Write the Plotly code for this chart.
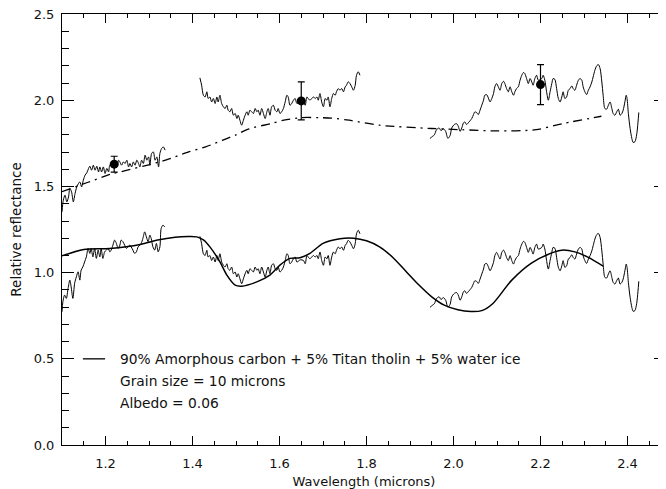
import plotly.graph_objects as go

# ---------------- data ----------------
# Upper observed spectrum, three segments
up1_x = [1.100,1.103,1.107,1.111,1.115,1.118,1.122,1.126,1.130,1.134,
         1.138,1.141,1.145,1.149,1.153,1.157,1.161,1.164,1.168,1.172,
         1.176,1.180,1.184,1.187,1.191,1.195,1.199,1.203,1.207,1.210,
         1.218,1.226,1.230,1.233,1.237,1.241,1.245,1.249,1.253,1.256,
         1.260,1.264,1.268,1.272,1.276,1.279,1.283,1.287,1.291,1.295,
         1.299,1.302,1.306,1.310,1.314,1.318,1.322,1.325,1.329,1.333,
         1.337]
up1_y = [1.353,1.421,1.450,1.411,1.440,1.489,1.469,1.411,1.460,1.498,
         1.518,1.527,1.498,1.537,1.566,1.580,1.605,1.618,1.595,1.624,
         1.595,1.618,1.585,1.614,1.585,1.614,1.576,1.605,1.585,1.624,
         1.634,1.614,1.653,1.643,1.624,1.643,1.634,1.653,1.614,1.634,
         1.614,1.643,1.624,1.653,1.634,1.614,1.653,1.634,1.682,1.653,
         1.672,1.624,1.692,1.701,1.653,1.672,1.614,1.692,1.721,1.730,
         1.711]

up2_x = [1.417,1.421,1.425,1.429,1.433,1.436,1.440,1.444,1.448,1.452,
         1.456,1.459,1.463,1.467,1.471,1.475,1.479,1.482,1.486,1.490,
         1.494,1.498,1.502,1.505,1.509,1.513,1.517,1.521,1.525,1.528,
         1.532,1.536,1.540,1.544,1.548,1.551,1.555,1.559,1.563,1.567,
         1.571,1.574,1.578,1.582,1.586,1.590,1.594,1.597,1.601,1.605,
         1.609,1.613,1.617,1.620,1.624,1.628,1.632,1.636,1.640,
         1.648,1.655,1.659,1.663,1.666,1.670,1.674,1.678,1.682,1.686,
         1.689,1.693,1.697,1.701,1.705,1.709,1.712,1.716,1.720,1.724,
         1.728,1.731,1.735,1.739,1.743,1.747,1.751,1.754,1.758,1.762,
         1.766,1.770,1.774,1.777,1.781,1.785]
up2_y = [2.131,2.088,2.030,2.020,2.050,2.011,2.020,1.991,2.011,1.982,
         2.020,1.991,2.030,1.982,1.963,1.953,1.972,1.943,1.934,1.953,
         1.914,1.924,1.895,1.914,1.885,1.856,1.885,1.914,1.934,1.914,
         1.943,1.934,1.924,1.953,1.934,1.943,1.914,1.953,1.924,1.895,
         1.934,1.953,1.914,1.963,1.972,1.943,1.934,1.953,1.924,1.934,
         1.953,1.991,2.030,2.020,1.972,1.982,2.001,2.011,1.982,
         1.995,1.991,1.972,2.020,2.011,2.001,2.011,2.020,2.011,2.020,
         2.001,2.040,1.991,1.963,2.011,2.001,2.020,1.963,2.011,2.040,
         2.030,2.050,2.069,2.059,2.069,2.050,2.079,2.088,2.108,2.098,
         2.079,2.059,2.088,2.146,2.166,2.146]

up3_x = [1.946,1.951,1.956,1.961,1.967,1.971,1.977,1.982,1.987,1.992,
         1.996,2.002,2.007,2.011,2.015,2.019,2.023,2.026,2.030,2.034,
         2.042,2.046,2.049,2.053,2.057,2.061,2.065,2.069,2.072,2.076,
         2.080,2.084,2.088,2.092,2.095,2.099,2.103,2.107,2.111,2.115,
         2.118,2.122,2.126,2.130,2.134,2.138,2.141,2.145,2.149,2.153,
         2.157,2.161,2.164,2.168,2.172,2.176,2.180,2.183,2.187,2.191,
         2.195,2.203,2.206,2.210,2.214,2.218,2.222,2.226,2.229,2.233,
         2.237,2.241,2.245,2.249,2.252,2.256,2.260,2.264,2.268,2.272,
         2.275,2.279,2.283,2.287,2.291,2.295,2.298,2.302,2.306,2.310,
         2.314,2.318,2.321,2.325,2.329,2.333,2.337,2.341,2.344,2.348,
         2.352,2.356,2.360,2.364,2.367,2.371,2.375,2.379,2.383,2.387,
         2.390,2.394,2.397,2.399,2.402,2.406,2.410,2.413,2.417,2.421,
         2.424,2.426]
up3_y = [1.779,1.790,1.800,1.830,1.840,1.825,1.835,1.820,1.780,1.795,
         1.840,1.860,1.865,1.850,1.820,1.840,1.870,1.875,1.860,1.870,
         1.895,1.918,1.933,1.930,1.918,1.943,1.972,2.001,2.030,2.034,
         2.015,1.991,2.011,2.040,2.079,2.098,2.079,2.059,2.098,2.111,
         2.098,2.069,2.050,2.079,2.050,2.030,2.050,2.069,2.079,2.117,
         2.146,2.162,2.156,2.127,2.098,2.127,2.107,2.088,2.127,2.146,
         2.117,2.127,2.146,2.117,2.050,2.001,2.050,2.098,2.127,2.122,
         2.069,2.011,1.991,2.020,2.050,2.011,2.020,2.059,2.069,2.084,
         2.069,2.059,2.088,2.117,2.127,2.117,2.079,2.050,2.034,2.059,
         2.079,2.107,2.136,2.175,2.200,2.208,2.185,2.107,2.030,1.953,
         1.949,1.972,1.991,1.953,1.924,1.914,1.933,1.949,1.914,1.924,
         1.943,1.991,2.030,2.010,1.924,1.837,1.779,1.756,1.760,1.800,
         1.870,1.930]

# Lower observed spectrum, three segments
lo1_x = [1.100,1.102,1.106,1.110,1.114,1.118,1.121,1.125,1.129,1.133,
         1.137,1.141,1.144,1.148,1.152,1.156,1.160,1.164,1.167,1.171,
         1.175,1.179,1.183,1.187,1.190,1.194,1.198,1.202,1.206,1.210,
         1.213,1.217,1.221,1.225,1.229,1.233,1.236,1.240,1.244,1.248,
         1.252,1.256,1.259,1.263,1.267,1.271,1.275,1.279,1.282,1.286,
         1.290,1.294,1.298,1.302,1.305,1.309,1.313,1.317,1.321,1.325,
         1.328,1.332,1.336]
lo1_y = [0.773,0.831,0.870,0.851,0.909,0.957,0.918,0.851,0.938,0.976,
         1.005,0.957,1.015,1.034,1.063,1.092,1.141,1.112,1.141,1.092,
         1.141,1.083,1.131,1.092,1.141,1.083,1.121,1.131,1.141,1.121,
         1.131,1.160,1.189,1.170,1.141,1.160,1.189,1.180,1.160,1.141,
         1.150,1.160,1.150,1.131,1.112,1.121,1.150,1.160,1.170,1.199,
         1.237,1.208,1.180,1.218,1.199,1.150,1.131,1.170,1.121,1.150,
         1.257,1.276,1.266]

lo2_x = up2_x
lo2_y = [1.211,1.168,1.110,1.100,1.130,1.091,1.100,1.071,1.091,1.062,
         1.100,1.071,1.110,1.062,1.043,1.033,1.052,1.023,1.014,1.033,
         0.994,1.004,0.975,0.994,0.965,0.936,0.965,0.994,1.014,0.994,
         1.023,1.014,1.004,1.033,1.014,1.023,0.994,1.033,1.004,0.975,
         1.014,1.033,0.994,1.043,1.052,1.023,1.014,1.033,1.004,1.014,
         1.033,1.071,1.110,1.100,1.052,1.062,1.081,1.091,1.062,
         1.075,1.071,1.052,1.100,1.091,1.081,1.091,1.100,1.091,1.100,
         1.081,1.120,1.071,1.043,1.091,1.081,1.100,1.043,1.091,1.120,
         1.110,1.130,1.149,1.139,1.149,1.130,1.159,1.168,1.188,1.178,
         1.159,1.139,1.168,1.226,1.246,1.226]

lo3_x = up3_x
lo3_y = [0.799,0.810,0.820,0.850,0.860,0.845,0.855,0.840,0.800,0.815,
         0.860,0.880,0.885,0.870,0.840,0.860,0.890,0.895,0.880,0.890,
         0.915,0.938,0.953,0.950,0.938,0.963,0.992,1.021,1.050,1.054,
         1.035,1.011,1.031,1.060,1.099,1.118,1.099,1.079,1.118,1.131,
         1.118,1.089,1.070,1.099,1.070,1.050,1.070,1.089,1.099,1.137,
         1.166,1.182,1.176,1.147,1.118,1.147,1.127,1.108,1.147,1.166,
         1.137,1.147,1.166,1.137,1.070,1.021,1.070,1.118,1.147,1.142,
         1.089,1.031,1.011,1.040,1.070,1.031,1.040,1.079,1.089,1.104,
         1.089,1.079,1.108,1.137,1.147,1.137,1.099,1.070,1.054,1.079,
         1.099,1.127,1.156,1.195,1.220,1.228,1.205,1.127,1.050,0.973,
         0.969,0.992,1.011,0.973,0.944,0.934,0.953,0.969,0.934,0.944,
         0.963,1.011,1.050,1.030,0.944,0.857,0.799,0.776,0.780,0.820,
         0.890,0.950]

# Model curves
model_up_x = [1.10,1.16,1.21,1.25,1.29,1.34,1.39,1.43,1.47,1.50,1.53,1.58,
              1.61,1.65,1.69,1.72,1.76,1.83,1.95,2.02,2.10,2.19,2.25,2.34]
model_up_y = [1.47,1.525,1.57,1.595,1.62,1.655,1.70,1.73,1.77,1.80,1.835,1.865,
              1.885,1.90,1.90,1.897,1.885,1.856,1.837,1.83,1.823,1.83,1.865,1.908]

model_lo_x = [1.10,1.15,1.21,1.28,1.32,1.36,1.39,1.41,1.425,1.44,1.463,1.479,
              1.498,1.513,1.548,1.578,1.601,1.624,1.647,1.67,1.70,1.739,1.77,
              1.80,1.83,1.86,1.89,1.92,1.95,1.98,2.01,2.04,2.065,2.09,2.134,
              2.18,2.226,2.249,2.279,2.31,2.344]
model_lo_y = [1.098,1.135,1.141,1.164,1.19,1.206,1.21,1.208,1.19,1.15,1.063,0.986,
              0.928,0.922,0.947,0.986,1.044,1.083,1.087,1.112,1.17,1.197,1.20,
              1.185,1.15,1.09,1.01,0.93,0.86,0.81,0.785,0.775,0.78,0.82,0.957,
              1.057,1.115,1.131,1.121,1.089,1.038]

# Photometric points with error bars
phot_x = [1.22, 1.65, 2.20]
phot_y = [1.63, 1.997, 2.092]
phot_err = [0.046, 0.11, 0.116]

legend_text = ["90% Amorphous carbon + 5% Titan tholin + 5% water ice",
               "Grain size = 10 microns",
               "Albedo = 0.06"]
legend_y = [0.5, 0.371, 0.244]

y_ticks = [0.0, 0.5, 1.0, 1.5, 2.0, 2.5]
y_ticklabels = ["0.0", "0.5", "1.0", "1.5", "2.0", "2.5"]
x_ticks = [1.2, 1.4, 1.6, 1.8, 2.0, 2.2, 2.4]
x_ticklabels = ["1.2", "1.4", "1.6", "1.8", "2.0", "2.2", "2.4"]

# ---------------- figure ----------------
FONT = "DejaVu Sans"
fig = go.Figure()

def add_line(xs, ys, width=1.0, dash="solid"):
    fig.add_trace(go.Scatter(x=xs, y=ys, mode="lines",
                             line=dict(color="black", width=width, dash=dash,
                                       shape="spline", smoothing=0.8),
                             showlegend=False, hoverinfo="skip"))

for xs, ys in [(up1_x, up1_y), (up2_x, up2_y), (up3_x, up3_y),
               (lo1_x, lo1_y), (lo2_x, lo2_y), (lo3_x, lo3_y)]:
    add_line(xs, ys, width=1.0)

add_line(model_up_x, model_up_y, width=1.3, dash="9px,5px,2px,5px")
add_line(model_lo_x, model_lo_y, width=1.5)

fig.add_trace(go.Scatter(x=phot_x, y=phot_y, mode="markers",
                         marker=dict(color="black", size=9),
                         error_y=dict(type="data", array=phot_err, visible=True,
                                      color="black", thickness=1.2, width=3.5),
                         showlegend=False, hoverinfo="skip"))

# legend-like annotation
fig.add_shape(type="line", xref="x", yref="y", x0=1.148, x1=1.199,
              y0=legend_y[0], y1=legend_y[0], line=dict(color="black", width=1.3))
for t, yy in zip(legend_text, legend_y):
    fig.add_annotation(x=1.229, y=yy, xref="x", yref="y", text=t,
                       showarrow=False, xanchor="left", yanchor="middle",
                       font=dict(family=FONT, size=13.8, color="#111"))

axis_common = dict(showline=True, linecolor="black", linewidth=1,
                   mirror="ticks", ticks="inside", tickcolor="black",
                   showgrid=False, zeroline=False, automargin=False,
                   tickfont=dict(family=FONT, size=13, color="#111"))

fig.update_xaxes(range=[1.1, 2.4885], tickvals=x_ticks, ticktext=x_ticklabels,
                 ticklen=9, tickwidth=1,
                 minor=dict(dtick=0.05, tick0=1.1, ticks="inside", ticklen=4,
                            tickcolor="black", showgrid=False),
                 ticklabelstandoff=6,
                 title=dict(text="Wavelength (microns)", standoff=8,
                            font=dict(family=FONT, size=13, color="#111")),
                 **axis_common)
fig.update_yaxes(range=[0, 2.5015], tickvals=y_ticks, ticktext=y_ticklabels,
                 ticklen=12, tickwidth=1,
                 minor=dict(dtick=0.1, tick0=0, ticks="inside", ticklen=7,
                            tickcolor="black", showgrid=False),
                 ticklabelstandoff=4, ticklabeloverflow="allow",
                 title=dict(text="Relative reflectance", standoff=11,
                            font=dict(family=FONT, size=13.5, color="#111")),
                 **axis_common)

# the page adds an 8px body margin, so the figure is 8px smaller each way
fig.update_layout(width=658, height=481,
                  margin=dict(l=54, r=0, t=6, b=44),
                  paper_bgcolor="white", plot_bgcolor="white",
                  showlegend=False)

fig.write_html("out.html")
